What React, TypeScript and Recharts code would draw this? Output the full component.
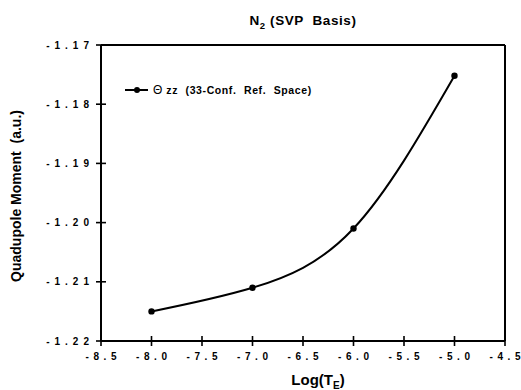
import { LineChart, Line, XAxis, YAxis, Legend } from "recharts";

// N2 (SVP basis) quadrupole moment vs log of the threshold
const logT = [-8.0, -7.0, -6.0, -5.0];
const thetaZZ = [-1.215, -1.211, -1.201, -1.1752];
const xTicks = [-8.5, -8.0, -7.5, -7.0, -6.5, -6.0, -5.5, -5.0, -4.5];
const yTicks = [-1.22, -1.21, -1.2, -1.19, -1.18, -1.17];

const data = logT.map((x, i) => ({ x, theta: thetaZZ[i] }));

const FONT = "'Liberation Sans', Arial, Helvetica, sans-serif";
const TS = 10; // full crossing tick length
const axisStroke = { stroke: "#000", strokeWidth: 2 };
const X_DOMAIN: [number, number] = [-8.5, -4.5];
const Y_DOMAIN: [number, number] = [-1.22, -1.17];

function TickLabel(props: any) {
  const { x, y, payload, side, digits } = props;
  const txt = Number(payload.value).toFixed(digits);
  if (side === "bottom") {
    return (
      <g>
        <rect x={x - 0.8} y={y - 15} width={1.6} height={10} fill="#000" />
        <text x={x + 2.3} y={y + 9} textAnchor="middle" fontFamily={FONT} fontWeight="bold" fontSize={10} letterSpacing={4.6} fill="#000">
          {txt}
        </text>
      </g>
    );
  }
  return (
    <text x={x + 3} y={y + 3.5} textAnchor="end" fontFamily={FONT} fontWeight="bold" fontSize={10} letterSpacing={5} fill="#000">
      {txt}
    </text>
  );
}

function EmptyTick() {
  return <g />;
}

function LegendBox() {
  return (
    <div style={{ display: "flex", alignItems: "center", fontFamily: FONT, color: "#000" }}>
      <svg width={25} height={10} style={{ display: "block" }}>
        <line x1={0} x2={23} y1={5} y2={5} stroke="#000" strokeWidth={2} />
        <circle cx={12} cy={5} r={3} fill="#000" />
      </svg>
      <span style={{ fontSize: 12, marginLeft: 3 }}>Θ</span>
      <span style={{ fontSize: 10.5, fontWeight: "bold", marginLeft: 4, letterSpacing: 0.6, wordSpacing: 4 }}>
        zz (33-Conf. Ref. Space)
      </span>
    </div>
  );
}

export default function App() {
  return (
    <div style={{ position: "absolute", left: 0, top: 0, width: 521, height: 390, background: "#fff" }}>
      <LineChart width={521} height={390} data={data} margin={{ top: 0, right: 0, bottom: 0, left: 0 }}>
        <XAxis
          dataKey="x"
          type="number"
          domain={X_DOMAIN}
          ticks={xTicks}
          interval={0}
          height={49}
          axisLine={axisStroke}
          tickLine={false}
          tickSize={5}
          tickMargin={5}
          tick={<TickLabel side="bottom" digits={1} />}
          label={{
            content: (p: any) => {
              const vb = p.viewBox;
              return (
                <text x={vb.x + vb.width / 2 + 15} y={vb.y + 44} textAnchor="middle" fontFamily={FONT} fontWeight="bold" fontSize={15} fill="#000">
                  Log(T<tspan fontSize={10} dy={4}>E</tspan>
                  <tspan dy={-4}>)</tspan>
                </text>
              );
            },
          }}
        />
        <XAxis
          xAxisId="top"
          type="number"
          orientation="top"
          domain={X_DOMAIN}
          ticks={xTicks}
          interval={0}
          height={45}
          axisLine={axisStroke}
          tickLine={{ stroke: "#000", strokeWidth: 1.6, transform: "translate(0,5)" }}
          tickSize={TS}
          tick={<EmptyTick />}
          label={{
            content: (p: any) => {
              const vb = p.viewBox;
              return (
                <text x={vb.x + vb.width / 2} y={vb.y + 25} textAnchor="middle" fontFamily={FONT} fontWeight="bold" fontSize={13.5} letterSpacing={0.6} fill="#000" style={{ whiteSpace: "pre" }}>
                  N<tspan fontSize={9.5} dy={4}>2</tspan>
                  <tspan dy={-4}> (SVP  Basis)</tspan>
                </text>
              );
            },
          }}
        />
        <YAxis
          type="number"
          domain={Y_DOMAIN}
          ticks={yTicks}
          interval={0}
          width={101}
          axisLine={axisStroke}
          tickLine={{ stroke: "#000", strokeWidth: 1.6, transform: "translate(5,0)" }}
          tickSize={TS}
          tickMargin={0}
          tick={<TickLabel side="left" digits={2} />}
          label={{
            content: (p: any) => {
              const vb = p.viewBox;
              const cx = vb.x + 21;
              const cy = vb.y + vb.height / 2 + 3;
              return (
                <text x={cx} y={cy} transform={`rotate(-90 ${cx} ${cy})`} textAnchor="middle" fontFamily={FONT} fontWeight="bold" fontSize={14} fill="#000" style={{ whiteSpace: "pre" }}>
                  Quadupole Moment  (a.u.)
                </text>
              );
            },
          }}
        />
        <YAxis
          yAxisId="right"
          orientation="right"
          type="number"
          domain={Y_DOMAIN}
          ticks={yTicks}
          interval={0}
          width={16}
          axisLine={axisStroke}
          tickLine={{ stroke: "#000", strokeWidth: 1.6, transform: "translate(-5,0)" }}
          tickSize={TS}
          tick={<EmptyTick />}
        />
        <Legend
          layout="horizontal"
          verticalAlign="middle"
          align="center"
          content={() => <LegendBox />}
          wrapperStyle={{ position: "absolute", left: 125, top: 83, width: "auto" }}
        />
        <Line
          type="natural"
          dataKey="theta"
          stroke="#000"
          strokeWidth={2}
          dot={{ r: 3.2, fill: "#000", stroke: "#000", strokeWidth: 0 }}
          isAnimationActive={false}
        />
      </LineChart>
    </div>
  );
}
